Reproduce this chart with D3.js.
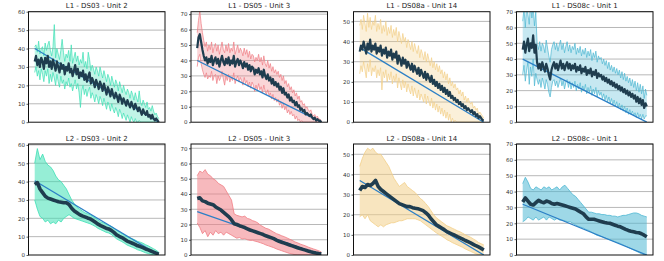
<!DOCTYPE html>
<html>
<head>
<meta charset="utf-8">
<script src="https://cdn.jsdelivr.net/npm/d3@7"></script>
<style>
  html, body { margin: 0; padding: 0; background: #fff; }
  svg { display: block; }
  text { font-family: "DejaVu Sans", sans-serif; }
</style>
</head>
<body>
<svg id="chart" width="664" height="261"></svg>
<script>
// ---- data (RUL predictions per unit) ----
const titles = [
  "L1 - DS03 - Unit 2", "L1 - DS05 - Unit 3", "L1 - DS08a - Unit 14", "L1 - DS08c - Unit 1",
  "L2 - DS03 - Unit 2", "L2 - DS05 - Unit 3", "L2 - DS08a - Unit 14", "L2 - DS08c - Unit 1"
];
const yMaxes = [60, 71.6, 54.8, 70, 60.5, 72.8, 55.1, 70];
const yTickValues = [
  [0, 10, 20, 30, 40, 50, 60], [0, 10, 20, 30, 40, 50, 60, 70], [0, 10, 20, 30, 40, 50], [0, 10, 20, 30, 40, 50, 60, 70],
  [0, 10, 20, 30, 40, 50, 60], [0, 10, 20, 30, 40, 50, 60, 70], [0, 10, 20, 30, 40, 50], [0, 10, 20, 30, 40, 50, 60, 70]
];
const bandColors = ["#3fe0b5", "#f07f86", "#f2cf8a", "#4fb8d3", "#3fe0b5", "#f07f86", "#f2cf8a", "#4fb8d3"];
// true RUL: start and end value (linear ground truth)
const trueStart = [40, 40, 37, 40, 40.5, 28.5, 37, 32];
const trueEnd = [0, 0, 0, 0, 0, 0, 0, 0];

// L1 (top row) - noisy
const l1Ds03Mean = [33,36,31,34,30,35,33,29,35,32,36,30, 33,29,34,31,28,33,30,27,32,29,31,26,
  30,28,32,27,29,25,28,31,26,29,24,27, 25,28,23,26,22,25,27,21,24,22,19,23,
  21,18,22,20,17,21,18,15,19,17,14,18, 15,13,16,14,11,15,13,10,13,11,9,12,
  10,8,11,9,7,10,8,6,8,6,4,7, 5,4,6,3,4,2,4,2,1,2,1,0];
const l1Ds03Hi = [41,42,38,44,37,40,41,36,43,39,42,44, 39,36,41,53,35,40,37,34,39,45,38,33,
  37,35,39,33,42,32,35,38,33,36,31,34, 32,38,30,33,29,38,34,28,31,29,26,30,
  28,25,30,27,24,28,25,22,26,24,20,25, 22,19,23,21,17,22,19,16,20,17,15,18,
  16,13,17,15,12,16,13,11,17,11,9,12, 10,8,11,7,8,6,9,6,4,5,3,2];
const l1Ds03Lo = [27,30,25,28,23,29,26,22,28,25,29,21, 26,22,27,24,20,26,22,19,25,21,23,18,
  22,20,24,19,21,17,20,23,18,21,16,8, 17,20,15,18,14,17,19,13,16,14,11,15,
  13,10,14,12,9,13,10,7,11,9,6,10, 7,5,8,6,3,7,5,2,5,3,1,4,
  2,0,3,1,0,2,0,0,1,0,0,0, 0,0,0,0,0,0,0,0,0,0,0,0];

const l1Ds05Mean = [48,55,57,52,47,43,40,42,38,41,39,43, 37,40,42,38,41,36,40,43,39,37,41,38,
  42,37,40,38,43,36,39,41,37,40,38,35, 39,36,38,34,37,33,36,35,31,34,32,35,
  31,33,29,34,30,28,31,27,29,25,28,24, 26,23,25,21,23,19,22,18,19,16,18,14,
  16,13,14,11,13,10,11,8,9,7,8,5, 6,5,4,5,3,2,3,1,2,1,1,0];
const l1Ds05Hi = [58,66,72,64,58,53,49,52,46,50,47,52, 45,49,51,46,50,44,48,52,47,45,50,46,
  51,45,48,46,52,44,47,50,45,48,46,43, 48,44,47,42,46,41,44,43,39,42,40,44,
  39,42,37,43,38,36,40,35,38,33,36,32, 34,31,33,29,31,27,30,25,27,23,25,21,
  23,19,21,17,19,15,17,13,14,11,12,9, 10,8,7,8,5,4,5,3,4,2,2,1];
const l1Ds05Lo = [36,42,44,38,34,31,29,32,28,30,29,33, 27,30,31,25,30,27,29,33,28,24,30,27,
  31,26,29,27,32,25,28,30,26,29,27,24, 29,25,27,23,26,22,26,24,20,24,21,25,
  21,23,19,24,20,18,21,17,19,15,18,14, 16,13,15,11,13,9,12,8,10,6,8,5,
  7,4,5,2,4,1,2,0,1,0,0,0, 0,0,0,0,0,0,0,0,0,0,0,0];

const l1Ds08aMean = [35,38,36,40,37,34,39,36,41,35,38,36, 39,34,37,35,38,33,36,34,37,32,35,33,
  36,31,34,32,35,29,33,31,28,32,29,31, 27,30,28,26,29,25,28,26,24,27,23,26,
  24,22,25,21,24,22,20,23,19,21,18,20, 17,19,16,18,15,17,14,16,13,15,12,13,
  11,12,10,11,9,10,8,9,7,8,6,7, 6,5,6,4,5,3,4,2,3,2,1,1];
const l1Ds08aHi = [48,51,46,53,49,45,54,47,52,46,50,48, 53,45,49,46,51,44,48,45,50,43,47,44,
  48,42,46,43,47,40,45,42,39,44,40,42, 37,41,39,36,40,35,39,36,34,38,32,36,
  34,31,35,30,34,31,28,32,27,30,26,29, 25,28,24,26,22,25,21,24,19,22,18,20,
  17,19,16,17,14,16,13,15,11,13,10,12, 10,9,10,7,8,6,7,4,5,4,3,2];
const l1Ds08aLo = [24,28,25,30,26,22,29,25,31,23,27,25, 28,22,26,23,27,16,25,22,26,20,24,21,
  25,19,23,20,24,17,22,19,16,21,17,20, 15,19,16,14,18,13,17,14,12,16,11,14,
  12,10,14,9,13,10,8,12,7,10,6,9, 5,8,4,7,3,6,2,5,1,4,0,2,
  0,1,0,0,0,0,0,0,0,0,0,0, 0,0,0,0,0,0,0,0,0,0,0,0];

const l1Ds08cMean = [46,51,44,49,53,45,50,47,55,44,49,38, 34,37,33,38,35,32,37,34,30,27,33,36,
  38,34,37,33,36,39,34,37,33,36,38,34, 37,33,36,34,37,32,35,33,36,31,34,32,
  35,30,33,31,34,29,32,30,33,28,31,29, 30,27,29,26,28,25,27,24,26,23,25,22,
  24,21,23,20,22,19,21,18,20,17,19,16, 18,15,17,13,16,12,15,11,14,9,12,10];
const l1Ds08cHi = [64,72,60,74,68,62,76,66,73,61,70,50, 46,51,45,50,48,44,52,47,42,38,46,49,
  51,46,50,45,49,52,46,50,44,48,51,45, 49,44,48,46,50,43,47,44,48,42,46,43,
  47,41,45,42,46,39,44,41,45,38,42,40, 41,37,40,36,39,34,38,33,36,32,35,31,
  34,30,33,28,32,27,31,26,29,25,28,23, 27,22,26,20,25,19,24,18,23,15,21,17];
const l1Ds08cLo = [30,36,26,33,38,24,35,29,40,23,31,27, 24,27,22,28,25,21,27,24,19,16,22,26,
  27,23,26,22,25,28,23,26,21,25,27,22, 26,21,25,22,26,20,24,21,25,19,23,20,
  24,18,22,19,23,17,21,18,22,16,20,17, 19,15,18,14,17,13,16,12,15,11,14,10,
  13,9,12,8,11,7,10,6,9,5,8,5, 7,4,6,3,6,3,5,2,5,2,4,4];

// L2 (bottom row) - smoother
const l2Ds03Mean = [38.5,39.5,36,34,32,31,30.5,30,29.5,29, 28.8,28.5,28.5,27.5,25.5,24,23,22,21.3,20.8,
  20.2,19.7,18.8,17.8,16.8,16,15.3,14.6,14.2,13.4, 12.3,11,10.2,9.5,8.6,7.6,7,6.4,5.8,5, 4.6,4,3.3,2.8,2.2,1.6,1,0.5];
const l2Ds03Hi = [50,58,52,55,51,49,48,46,43,41, 40,38,36,33,30,28,26,25,24,23, 22.5,22,21,20,19,18,17.5,16.8,16.3,15.6,
  14.6,13.4,12.6,11.8,11,10,9.4,8.8,8.2,7.4, 7,6.4,5.6,5,4.2,3.4,2.6,1.5];
const l2Ds03Lo = [30,25,21,20,18,19,17,18,17,19, 18,20,21,22,21,20,19.5,19,18.5,18, 17.5,17,16.3,15.5,14.5,13.8,13.1,12.4,12,11.2,
  10.1,8.8,8,7.3,6.4,5.4,4.8,4.2,3.6,2.8, 2.4,1.8,1.2,0.8,0.4,0.2,0,0];

const l2Ds05Mean = [37,37.5,35.5,35,34,33.5,33,31.5,30.5,29.5, 28,26.5,25,23,20.5,20,19.2,18.6,18,17.2,
  16.4,15.8,15.2,14.6,14,13.4,12.6,12,11.4,10.7, 9.8,9,8.4,7.8,7.2,6.6,6,5.4,4.8,4.2, 3.7,3.2,2.6,2.1,1.7,1.3,1,0.8];
const l2Ds05Hi = [52,55,54,56,53,52,50,49,47,46, 45,42,39,36,27,26,25.5,25,25.5,24, 23.5,22.5,22,21,19.5,18.5,17.5,17,16,15,
  14,13.4,12.6,12,11.2,10.4,9.6,8.6,8,7.2, 6.6,6,5.2,4.6,4,3.4,2.8,2];
const l2Ds05Lo = [21,18,14,16,12,15,13,16,14,15, 13,15,14,13,12,11,11.5,10.5,10.8,10, 9.6,9.6,9,8.6,8,7.4,6.6,6,5.4,4.8,
  4,3.4,2.8,2.2,1.6,1,0.6,0.2,0,0, 0,0,0,0,0,0,0,0];

const l2Ds08aMean = [32,34,33.5,35,34.5,35.5,37,34,32.5,31.5, 30.5,29.5,28.5,27.5,26.5,25.5,25,24.5,24,24,
  23.5,23.2,23,22.5,22,21,19.8,18,16.5,15, 14.2,13.4,12.6,11.6,11,10.4,9.8,9.1,8.5,7.9, 7.2,6.6,6,5.3,4.6,4,3.3,2.5];
const l2Ds08aHi = [44,48,51,53,52,53,51,50,50,48, 46,44,41,38,36,34,35,36,34,33, 32,31,29.5,28,27,25.5,24,22,20,18.5,
  17.5,16.5,15.5,14.5,14,13.3,12.7,12,11.5,10.8, 10,9.4,8.8,8,7.2,6.2,5.6,5];
const l2Ds08aLo = [19,20,18,20,17,16,15,14,15,14, 15,15.5,16,16,16.5,17,17,17.5,18,18, 18,18,17.5,17,16,15,14,13,12,11,
  10.2,9.4,8.6,7.6,7,6.2,5.6,5,4.4,3.8, 3,2.4,1.8,1.2,0.6,0.2,0,0];

const l2Ds08cMean = [33.5,36,34,32,31.5,33,34.5,33.5,33,34, 33.5,32.5,32,32.5,32,31.5,31,30.5,30,29.5,
  29,28,27,26,24,22.5,22.5,22.5,22,21.5, 21,20.5,20.2,20,19.4,18.8,18.2,17.8,17,16.2, 15.5,15,14.6,14.2,14,13.4,12.5,11.5];
const l2Ds08cHi = [45,49,46,42,41,43,42,41,43,42, 43,41,42,43,41,43,44,42,40,38, 37,35,33,31,29,27,27,26.5,26,26,
  25.5,25.5,25,25,24.5,24.5,24,24.5,25,25, 25.5,26,26.5,26.5,26,25,24.5,24];
const l2Ds08cLo = [21,22,24,23,22,24,22,23,24,22, 24,23,22,23,22,22,21.5,21,21,20, 19,18,17.5,17,16,15.5,14.5,13.5,12.5,12,
  11.5,10.8,10.2,9.6,9,8.4,7.8,7.2,6.4,5.6, 4.8,4,3.2,2.4,1.6,0.8,0.2,0];

const means = [l1Ds03Mean, l1Ds05Mean, l1Ds08aMean, l1Ds08cMean, l2Ds03Mean, l2Ds05Mean, l2Ds08aMean, l2Ds08cMean];
const his = [l1Ds03Hi, l1Ds05Hi, l1Ds08aHi, l1Ds08cHi, l2Ds03Hi, l2Ds05Hi, l2Ds08aHi, l2Ds08cHi];
const los = [l1Ds03Lo, l1Ds05Lo, l1Ds08aLo, l1Ds08cLo, l2Ds03Lo, l2Ds05Lo, l2Ds08aLo, l2Ds08cLo];

// ---- layout ----
const svg = d3.select("#chart");
const panelLefts = [28.5, 191, 353.5, 516.5];
const panelW = 136.5;
const rowTops = [11.7, 144];
const rowH = [110.5, 111];
const meanColor = "#1f3d4f";
const trueColor = "#2b7fc6";

titles.forEach((title, k) => {
  const row = Math.floor(k / 4), col = k % 4;
  const x0 = panelLefts[col], y0 = rowTops[row], h = rowH[row];
  const mean = means[k], hi = his[k], lo = los[k];
  const n = mean.length;
  const pad = (n - 1) * 0.05;

  const x = d3.scaleLinear().domain([-pad, n - 1 + pad]).range([0, panelW]);
  const y = d3.scaleLinear().domain([0, yMaxes[k]]).range([h, 0]);

  const g = svg.append("g").attr("transform", `translate(${x0},${y0})`);
  const clipId = "clip" + k;
  g.append("clipPath").attr("id", clipId)
    .append("rect").attr("width", panelW).attr("height", h);

  // horizontal grid
  g.append("g").selectAll("line")
    .data(yTickValues[k].filter(v => v > 0))
    .join("line")
    .attr("x1", 0).attr("x2", panelW)
    .attr("y1", d => y(d)).attr("y2", d => y(d))
    .attr("stroke", "#b8b8b8").attr("stroke-width", 1);

  const plot = g.append("g").attr("clip-path", `url(#${clipId})`);
  const idx = d3.range(n);
  const smooth = row === 1;

  // prediction band
  const area = d3.area().x(i => x(i)).y0(i => y(lo[i])).y1(i => y(hi[i]));
  plot.append("path").datum(idx)
    .attr("d", area)
    .attr("fill", bandColors[k])
    .attr("fill-opacity", smooth ? 0.55 : 0.32);
  const edge = arr => d3.line().x(i => x(i)).y(i => y(arr[i]))(idx);
  [hi, lo].forEach(arr => {
    plot.append("path")
      .attr("d", edge(arr))
      .attr("fill", "none")
      .attr("stroke", bandColors[k])
      .attr("stroke-opacity", smooth ? 0.8 : 0.8)
      .attr("stroke-width", smooth ? 1 : 0.9);
  });

  // ground truth RUL
  plot.append("path")
    .datum([[0, trueStart[k]], [n - 1, trueEnd[k]]])
    .attr("d", d3.line().x(d => x(d[0])).y(d => y(d[1])))
    .attr("fill", "none")
    .attr("stroke", trueColor)
    .attr("stroke-width", 1.3);

  // predicted mean
  plot.append("path").datum(idx)
    .attr("d", d3.line().x(i => x(i)).y(i => y(mean[i])))
    .attr("fill", "none")
    .attr("stroke", meanColor)
    .attr("stroke-width", smooth ? 3.6 : 2.2)
    .attr("stroke-linejoin", "round");

  // y axis
  const axis = g.append("g")
    .call(d3.axisLeft(y).tickValues(yTickValues[k]).tickSize(2).tickPadding(1.5).tickFormat(d3.format("d")));
  axis.select(".domain").remove();
  axis.selectAll("line").attr("stroke", "#333").attr("stroke-width", 0.8);
  axis.selectAll("text").attr("fill", "#333").style("font-size", "5.5px");

  // frame
  g.append("rect")
    .attr("width", panelW).attr("height", h)
    .attr("fill", "none").attr("stroke", "#111").attr("stroke-width", 1);

  g.append("text")
    .attr("x", panelW / 2).attr("y", -3.5)
    .attr("text-anchor", "middle")
    .attr("fill", "#222")
    .style("font-size", "7px")
    .text(title);
});
</script>
</body>
</html>
